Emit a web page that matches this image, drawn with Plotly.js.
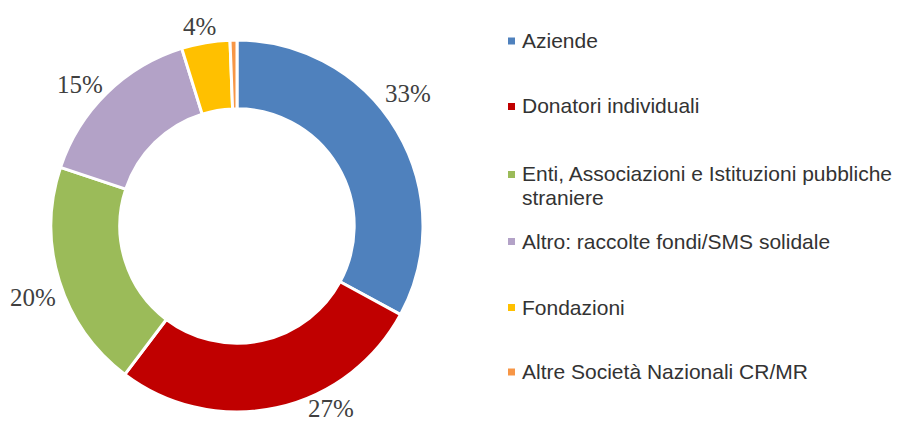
<!DOCTYPE html>
<html>
<head>
<meta charset="utf-8">
<script src="https://cdn.plot.ly/plotly-3.0.1.min.js"></script>
<style>html,body{margin:0;padding:0;background:#fff;}#chart{width:901px;height:423px;}</style>
</head>
<body>
<div id="chart"></div>
<script>
const categories = ["Aziende", "Donatori individuali", "Enti, Associazioni e Istituzioni pubbliche<br>straniere", "Altro: raccolte fondi/SMS solidale", "Fondazioni", "Altre Società Nazionali CR/MR"];
const values = [32.9, 27.4, 19.8, 15.1, 4.2, 0.6];
const shownLabels = ["33%", "27%", "20%", "15%", "4%", ""];
const colors = ["#4F81BD", "#C00000", "#9BBB59", "#B3A2C7", "#FFC000", "#F79646"];

// layout/style settings
const W = 901, H = 423;
const cx = 237, cy = 226, R = 186;
const labelDist = [216, 205, 216, 211, 203, 210];
const labelAngleShift = [-7, -15, -2, -3.6, -1, 0];
const legendY = [40.5, 106, 174, 241, 307, 371.5];

const trace = {
  type: "pie",
  labels: categories,
  values: values,
  textinfo: "none",
  hole: 0.63,
  sort: false,
  direction: "clockwise",
  rotation: 0,
  marker: {colors: colors, line: {color: "#ffffff", width: 3}},
  domain: {x: [(cx - R) / W, (cx + R) / W], y: [1 - (cy + R) / H, 1 - (cy - R) / H]},
  showlegend: false,
  hoverinfo: "label+percent"
};

const annotations = [];
const shapes = [];
const total = values.reduce((a, b) => a + b, 0);
let cum = 0;
values.forEach((v, i) => {
  const mid = (cum + v / 2) / total * 360 + labelAngleShift[i];
  cum += v;
  if (!shownLabels[i]) return;
  const a = mid * Math.PI / 180;
  const px = cx + labelDist[i] * Math.sin(a);
  const py = cy - labelDist[i] * Math.cos(a);
  annotations.push({
    xref: "paper", yref: "paper", x: px / W, y: 1 - py / H,
    xanchor: "center", yanchor: "middle", showarrow: false,
    text: shownLabels[i],
    font: {family: "Liberation Serif, serif", size: 25, color: "#404040"}
  });
});

categories.forEach((c, i) => {
  const y = legendY[i];
  c.split("<br>").forEach((line, j) => {
    annotations.push({
      xref: "paper", yref: "paper", x: 520 / W, y: 1 - (y + j * 23) / H,
      xanchor: "left", yanchor: "middle",
      text: line, showarrow: false, align: "left",
      font: {family: "Liberation Sans, Arial, sans-serif", size: 21, color: "#333333"}
    });
  });
  shapes.push({
    type: "rect", xref: "paper", yref: "paper",
    x0: 508 / W, x1: 515 / W, y0: 1 - (y + 4) / H, y1: 1 - (y - 3) / H,
    fillcolor: colors[i], line: {width: 0}
  });
});

const layout = {
  width: W, height: H,
  margin: {l: 0, r: 0, t: 0, b: 0},
  paper_bgcolor: "#ffffff",
  annotations: annotations,
  shapes: shapes
};

Plotly.newPlot("chart", [trace], layout, {displayModeBar: false, staticPlot: true});
</script>
</body>
</html>
